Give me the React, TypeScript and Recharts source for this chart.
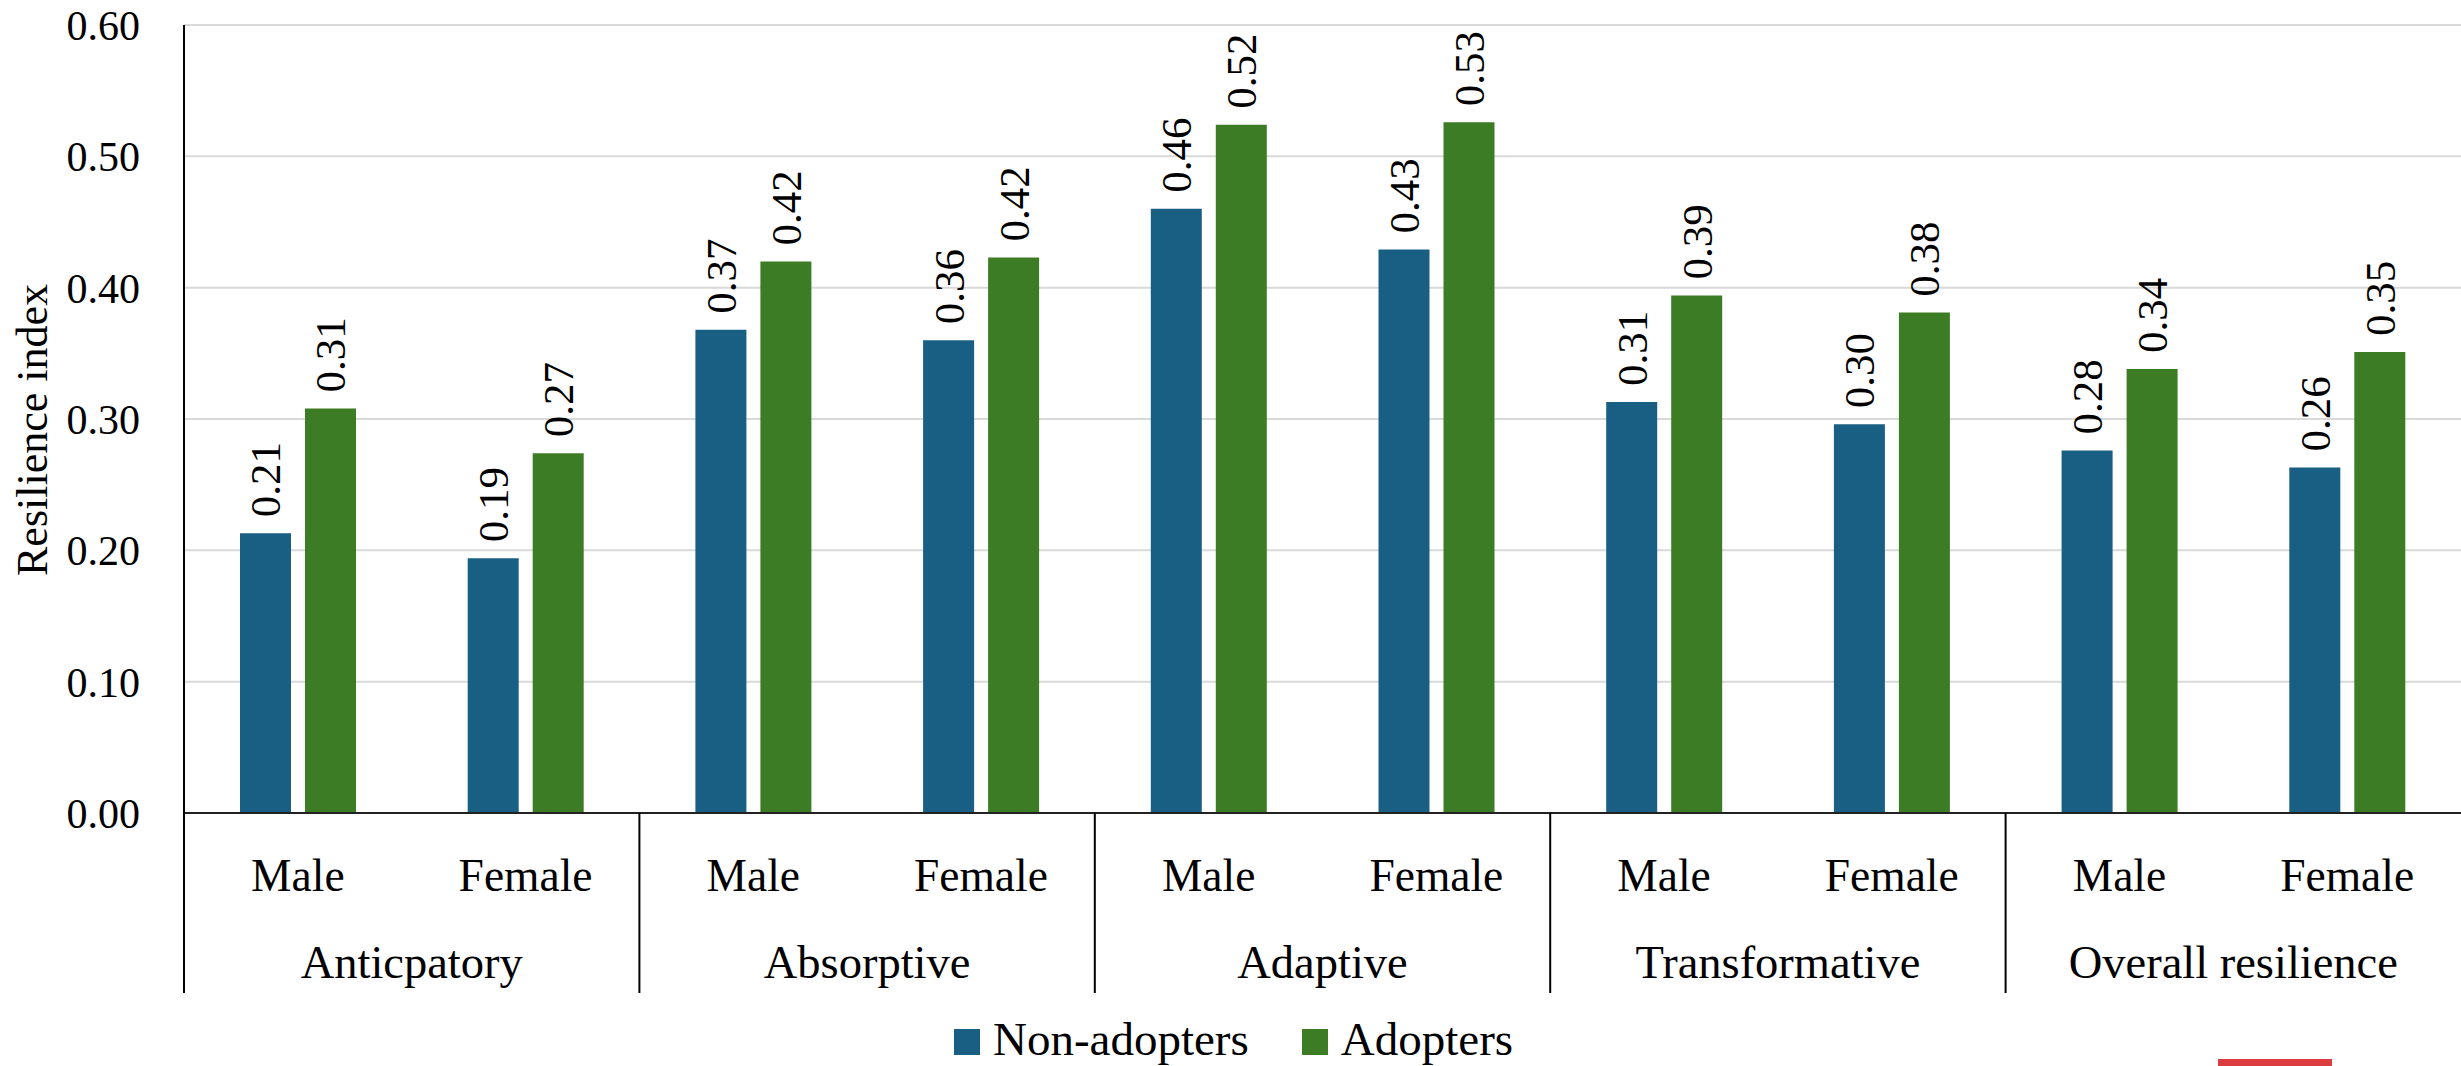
import React from "react";
import { BarChart, Bar, XAxis, YAxis, CartesianGrid, Legend, LabelList } from "recharts";

const categories = ["Anticpatory", "Absorptive", "Adaptive", "Transformative", "Overall resilience"];
const sexes = ["Male", "Female"];
const nonAdopters = [0.213, 0.194, 0.368, 0.36, 0.46, 0.429, 0.313, 0.296, 0.276, 0.263];
const adopters = [0.308, 0.274, 0.42, 0.423, 0.524, 0.526, 0.394, 0.381, 0.338, 0.351];
const yTicks = [0, 0.1, 0.2, 0.3, 0.4, 0.5, 0.6];

const data = nonAdopters.map((v, i) => ({
  group: categories[Math.floor(i / 2)],
  sex: sexes[i % 2],
  non: v,
  adopt: adopters[i],
}));

const W = 2461;
const H = 1066;
const Y_AXIS_W = 184;
const BAND = (W - Y_AXIS_W) / data.length;
const FONT = '"Liberation Serif", "Times New Roman", serif';
const BLUE = "#185F83";
const GREEN = "#3C7C25";

function XTick(props: any) {
  const { x, y, index, payload } = props;
  const first = index % 2 === 0;
  return (
    <g>
      <text x={x} y={y + 78} textAnchor="middle" fontSize={45.5} style={{ fontFamily: FONT }} fill="#000">
        {payload.value}
      </text>
      {first && (
        <>
          <text x={x + BAND / 2} y={y + 165} textAnchor="middle" fontSize={46.5} style={{ fontFamily: FONT }} fill="#000">
            {data[index].group}
          </text>
          <line x1={x - BAND / 2} x2={x - BAND / 2} y1={y} y2={y + 180} stroke="#000" strokeWidth={2} />
        </>
      )}
    </g>
  );
}

function barLabel(props: any) {
  const { x, y, width, value } = props;
  const tx = x + width / 2 + 15;
  const ty = y - 16;
  return (
    <text x={tx} y={ty} transform={`rotate(-90 ${tx} ${ty})`} textAnchor="start"
      fontSize={43} style={{ fontFamily: FONT }} fill="#000">
      {Number(value).toFixed(2)}
    </text>
  );
}

function LegendBox() {
  const item = (color: string, label: string, gap: number) => (
    <div style={{ display: "flex", alignItems: "flex-start", marginRight: gap }}>
      <div style={{ width: 26, height: 26, background: color, marginTop: 13, marginRight: 13 }} />
      <span style={{ fontSize: 47, lineHeight: "47px", color: "#000", whiteSpace: "nowrap" }}>{label}</span>
    </div>
  );
  return (
    <div style={{ height: 73, boxSizing: "border-box", paddingTop: 23, paddingLeft: 954, display: "flex", fontFamily: FONT }}>
      {item(BLUE, "Non-adopters", 53)}
      {item(GREEN, "Adopters", 0)}
    </div>
  );
}

export default function App() {
  return (
    <div style={{ position: "absolute", left: 0, top: 0, width: W, height: H, background: "#fff", fontFamily: FONT, overflow: "hidden" }}>
      <BarChart width={W} height={H} data={data} margin={{ top: 25, right: 0, left: 0, bottom: 0 }} barGap={14}>
        <CartesianGrid vertical={false} stroke="#D9D9D9" strokeWidth={2} />
        <XAxis dataKey="sex" interval={0} height={180} tickSize={0} tickMargin={0}
          tick={<XTick />} axisLine={{ stroke: "#222", strokeWidth: 2 }} tickLine={false} />
        <YAxis domain={[0, 0.6]} ticks={yTicks} width={Y_AXIS_W} tickSize={0} tickMargin={44}
          tickFormatter={(v: number) => v.toFixed(2)}
          tick={{ fontSize: 42, fill: "#000", fontFamily: FONT }}
          axisLine={{ stroke: "#000", strokeWidth: 2 }} tickLine={false}
          label={{
            content: () => (
              <text x={47} y={430} transform="rotate(-90 47 430)" textAnchor="middle"
                fontSize={44} style={{ fontFamily: FONT }} fill="#000">Resilience index</text>
            ),
          }} />
        <Legend verticalAlign="bottom" content={() => <LegendBox />} />
        <Bar dataKey="non" name="Non-adopters" fill={BLUE} barSize={51} isAnimationActive={false}>
          <LabelList dataKey="non" content={barLabel} />
        </Bar>
        <Bar dataKey="adopt" name="Adopters" fill={GREEN} barSize={51} isAnimationActive={false}>
          <LabelList dataKey="adopt" content={barLabel} />
        </Bar>
      </BarChart>
      <div style={{ position: "absolute", left: 2218, top: 1059, width: 114, height: 7, background: "#DC3C3F" }} />
    </div>
  );
}
